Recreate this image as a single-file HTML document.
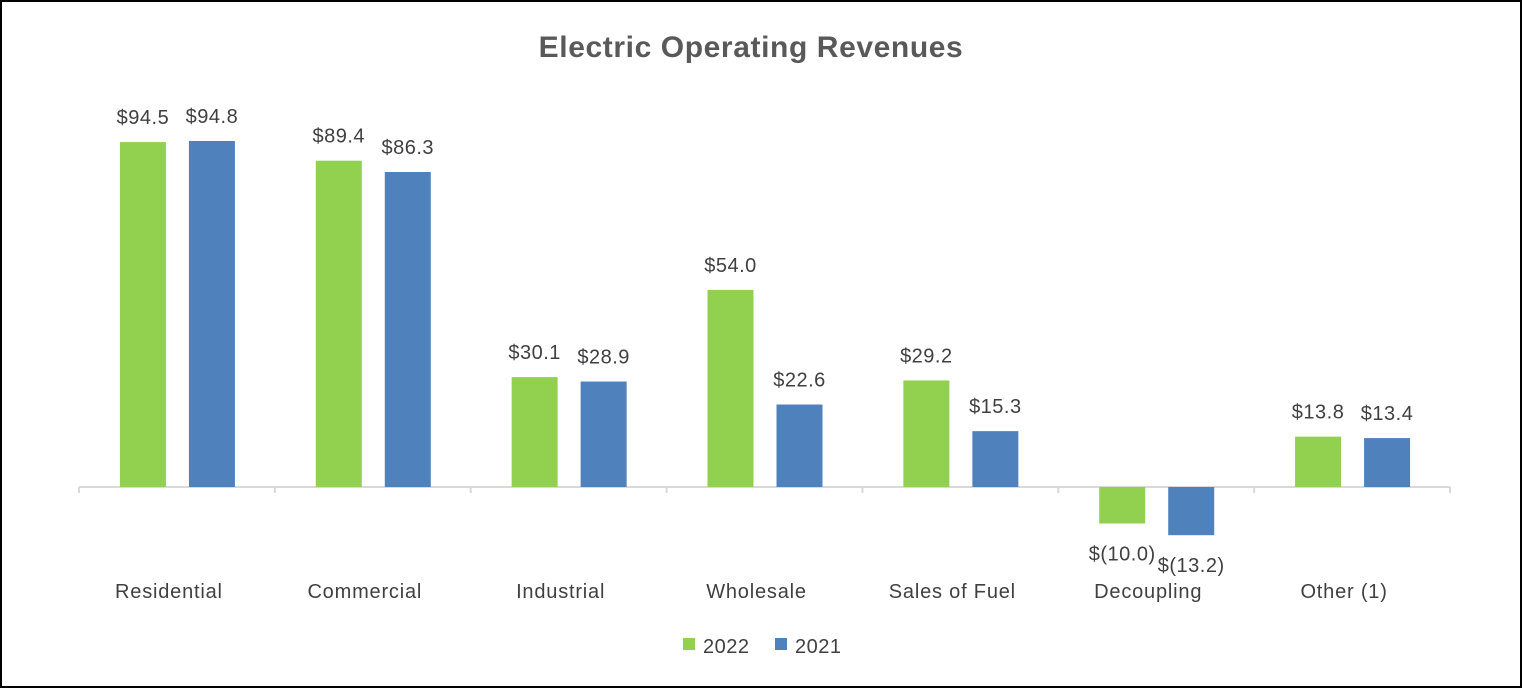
<!DOCTYPE html>
<html><head><meta charset="utf-8"><style>
html,body{margin:0;padding:0;background:#fff}
svg{display:block;font-family:"Liberation Sans",Calibri,sans-serif}
</style></head><body>
<svg id="chart" width="1522" height="688" viewBox="0 0 1522 688">
<rect x="1" y="1" width="1520" height="686" fill="#fff" stroke="#000" stroke-width="2"/>
<text x="751" y="57" text-anchor="middle" font-size="30" font-weight="bold" letter-spacing="0.6" fill="#595959">Electric Operating Revenues</text>
<g id="grid"></g>
<g id="bars"></g>
<g id="legend">
<rect x="683" y="638" width="12" height="12" fill="#92d050"/>
<text x="703" y="653" font-size="20" letter-spacing="0.5" fill="#404040">2022</text>
<rect x="775" y="638" width="12" height="12" fill="#4f81bd"/>
<text x="795" y="653" font-size="20" letter-spacing="0.5" fill="#404040">2021</text>
</g>
</svg>
<script>
const categories = ["Residential","Commercial","Industrial","Wholesale","Sales of Fuel","Decoupling","Other (1)"];
const values2022 = [94.5,89.4,30.1,54.0,29.2,-10.0,13.8];
const values2021 = [94.8,86.3,28.9,22.6,15.3,-13.2,13.4];
const NS="http://www.w3.org/2000/svg";
const x0=79,x1=1450,baseY=487,pxPerUnit=3.65;
const bandW=(x1-x0)/categories.length;
function xCenter(i){return x0+bandW*(i+0.5);}
function yScale(v){return baseY-v*pxPerUnit;}
function fmt(v){return v<0?"$("+Math.abs(v).toFixed(1)+")":"$"+v.toFixed(1);}
function mk(tag,attrs,parent){const e=document.createElementNS(NS,tag);for(const k in attrs)e.setAttribute(k,attrs[k]);parent.appendChild(e);return e;}
const grid=document.getElementById('grid'),bars=document.getElementById('bars');
const ax=mk('line',{x1:x0,x2:x1,y1:baseY,y2:baseY,stroke:'#d9d9d9','stroke-width':2},grid);


for(let i=0;i<=categories.length;i++){
  const tx=x0+bandW*i;
  const t=mk('line',{x1:tx,x2:tx,y1:baseY,y2:baseY+6,stroke:'#d9d9d9','stroke-width':2},grid);
  
  
}
const series=[{vals:values2022,color:'#92d050',off:-57,name:'2022'},{vals:values2021,color:'#4f81bd',off:12,name:'2021'}];
categories.forEach((c,i)=>{
  const cx=xCenter(i);
  series.forEach(s=>{
    const v=s.vals[i],y=yScale(v);
    const r=mk('rect',{x:cx+s.off,width:46,y:Math.min(y,baseY),height:Math.abs(baseY-y),fill:s.color},bars);
    
    
    const ly=v>=0?y-18:y+37;
    const t=mk('text',{x:cx+s.off+23,y:ly,'text-anchor':'middle','font-size':20,'letter-spacing':0.5,fill:'#404040'},bars);
    t.textContent=fmt(v);
    
    
  });
  const l=mk('text',{x:cx-8,y:598,'text-anchor':'middle','font-size':20,'letter-spacing':0.8,fill:'#404040'},bars);
  l.textContent=c;
  
  
});
</script>
</body></html>
